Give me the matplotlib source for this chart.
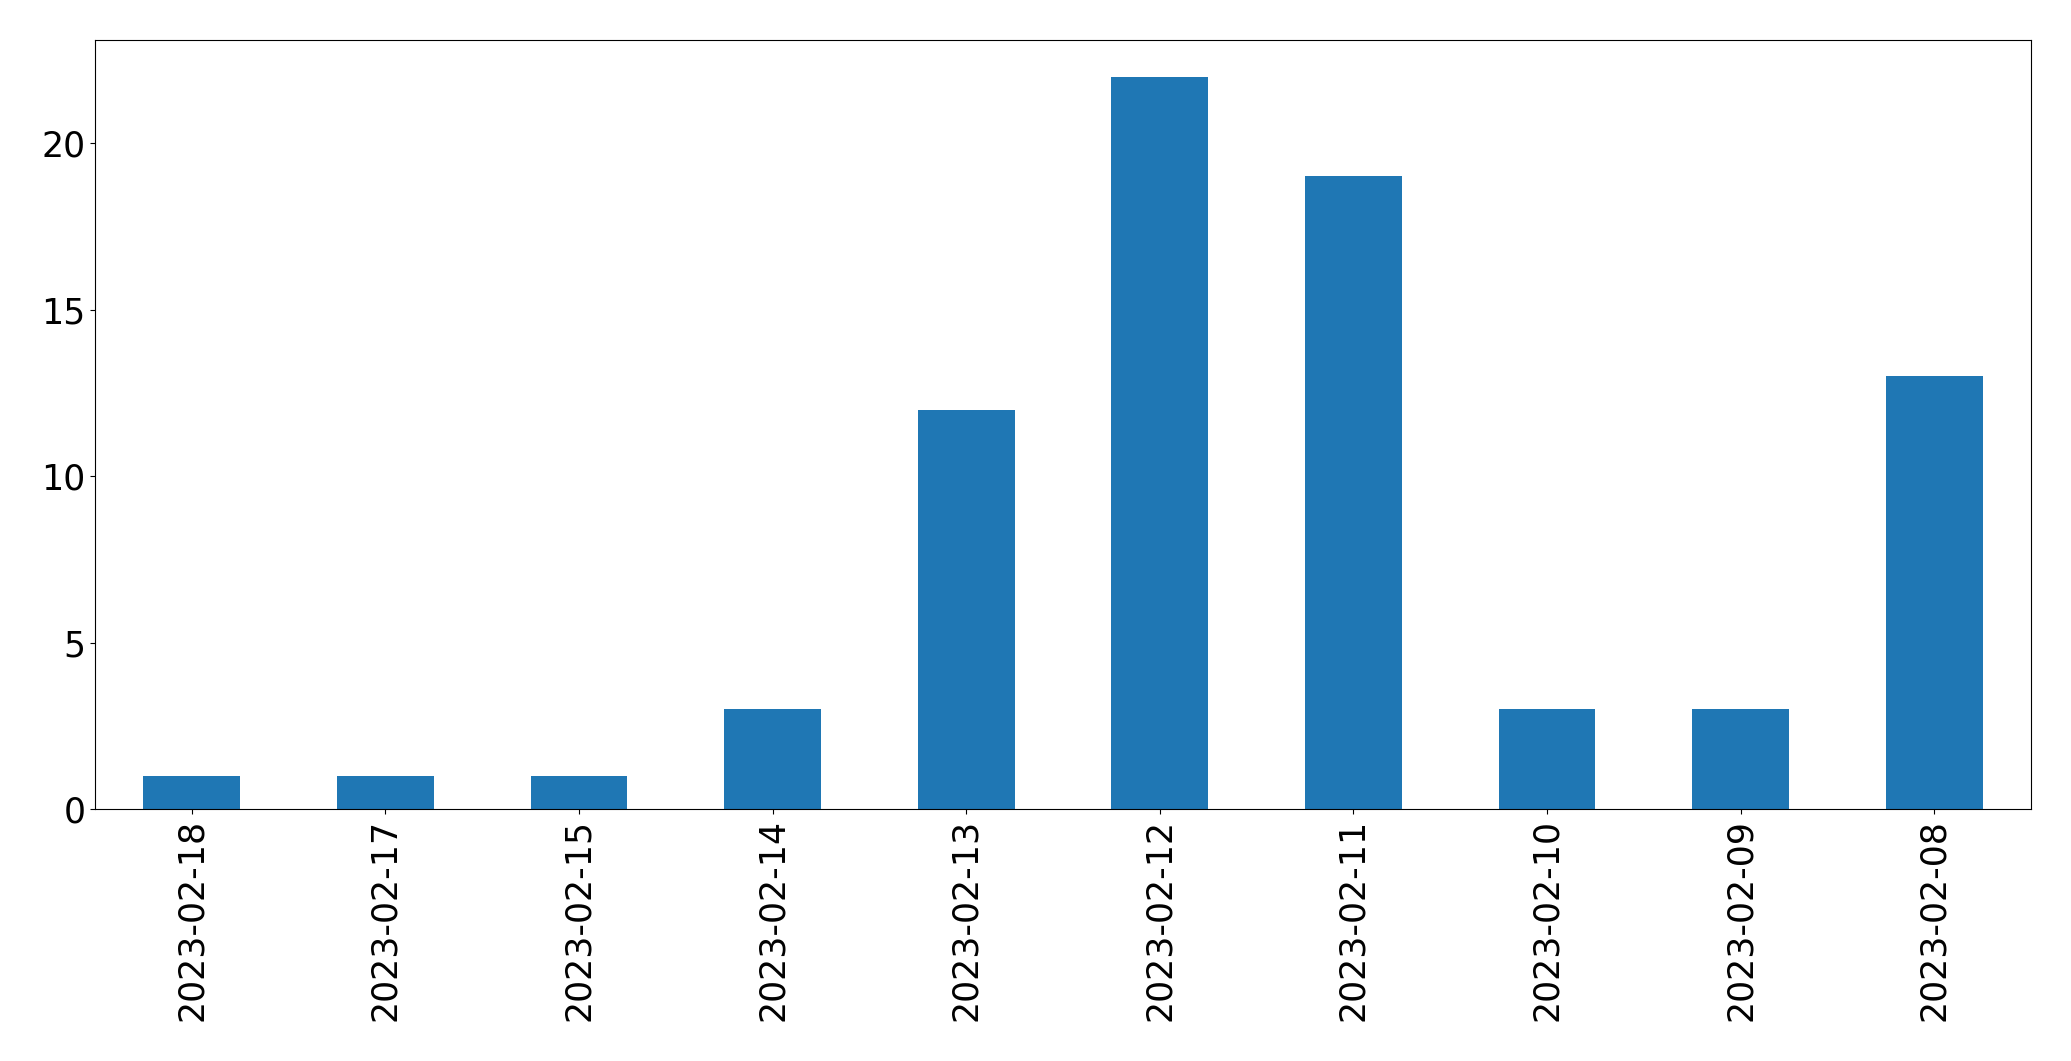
import matplotlib
matplotlib.use("Agg")
import matplotlib.pyplot as plt
import pandas as pd

dates = ["2023-02-18", "2023-02-17", "2023-02-15", "2023-02-14", "2023-02-13",
         "2023-02-12", "2023-02-11", "2023-02-10", "2023-02-09", "2023-02-08"]
counts = [1, 1, 1, 3, 12, 22, 19, 3, 3, 13]

s = pd.Series(counts, index=dates)

fig = plt.figure(figsize=(20.71, 10.61), dpi=100)
ax = fig.add_axes([95 / 2071, 1 - 809 / 1061, (2031 - 95) / 2071, (809 - 40) / 1061])
s.plot(kind="bar", ax=ax, color="#1f77b4")
ax.tick_params(axis="both", labelsize=25)
fig.savefig("out.png", dpi=100)
